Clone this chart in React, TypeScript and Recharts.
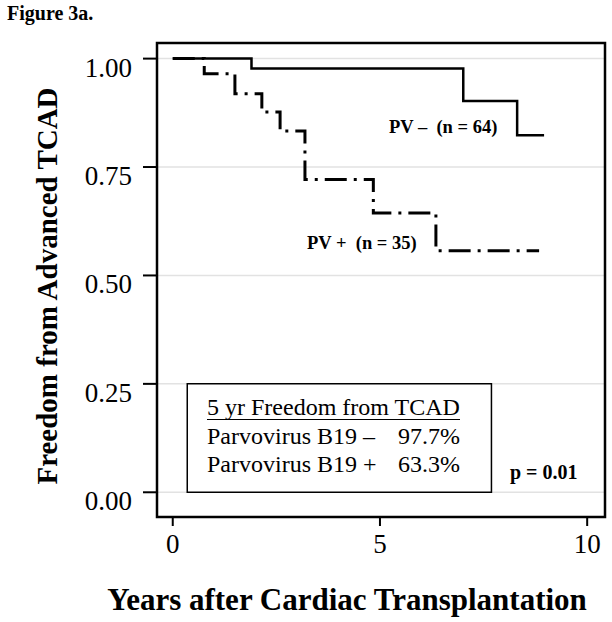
import React from "react";
import {
  LineChart,
  Line,
  XAxis,
  YAxis,
  CartesianGrid,
  ReferenceArea,
} from "recharts";

// Kaplan-Meier step data
const pvNegTimes = [0, 1.9, 7.01, 8.31, 8.96];
const pvNegSurv = [1, 0.977, 0.902, 0.823, 0.823];
const pvPosTimes = [0, 0.76, 1.5, 2.15, 2.59, 3.19, 4.84, 6.35, 8.84];
const pvPosSurv = [1, 0.965, 0.919, 0.877, 0.833, 0.721, 0.644, 0.557, 0.557];

const xTicks = [0, 5, 10];
const yTicks = [0, 0.25, 0.5, 0.75, 1];

const pvNegData = pvNegTimes.map((t, i) => ({ t, s: pvNegSurv[i] }));
const pvPosData = pvPosTimes.map((t, i) => ({ t, s: pvPosSurv[i] }));

const SERIF = "'Liberation Serif', 'Times New Roman', serif";

const YTick = (props: any) => {
  const { x, y, payload } = props;
  return (
    <text x={x} y={y + 18} textAnchor="end" fontFamily={SERIF} fontSize={27} fill="#000">
      {Number(payload.value).toFixed(2)}
    </text>
  );
};

const XTick = (props: any) => {
  const { x, y, payload } = props;
  return (
    <text x={x} y={y + 19} textAnchor="middle" fontFamily={SERIF} fontSize={27} fill="#000">
      {payload.value}
    </text>
  );
};

export default function App() {
  return (
    <div style={{ position: "absolute", left: 0, top: 0, width: 612, height: 622, background: "#fff" }}>
      <LineChart
        width={612}
        height={622}
        margin={{ top: 43, right: 7, bottom: 45, left: 0 }}
      >
        <CartesianGrid horizontal={true} vertical={false} stroke="#e2e2e2" strokeWidth={1.5} />
        <XAxis
          type="number"
          dataKey="t"
          domain={[-0.38, 10.43]}
          allowDataOverflow
          ticks={xTicks}
          tickSize={9}
          tickMargin={8}
          axisLine={false}
          tickLine={{ stroke: "#000", strokeWidth: 2 }}
          tick={<XTick />}
          height={60}
          interval={0}
        />
        <YAxis
          type="number"
          domain={[-0.057, 1.036]}
          allowDataOverflow
          ticks={yTicks}
          tickSize={14}
          tickMargin={11}
          axisLine={false}
          tickLine={{ stroke: "#000", strokeWidth: 2 }}
          tick={<YTick />}
          width={157}
          interval={0}
        />
        <ReferenceArea
          x1={0.35}
          x2={7.69}
          y1={0}
          y2={0.25}
          fill="#fff"
          fillOpacity={1}
          stroke="#000"
          strokeWidth={1.5}
        />
        <Line
          data={pvPosData}
          dataKey="s"
          type="stepAfter"
          stroke="#000"
          strokeWidth={3}
          strokeDasharray="22 7 3 7"
          dot={false}
          activeDot={false}
          isAnimationActive={false}
        />
        <Line
          data={pvNegData}
          dataKey="s"
          type="stepAfter"
          stroke="#000"
          strokeWidth={2.5}
          dot={false}
          activeDot={false}
          isAnimationActive={false}
        />
        <ReferenceArea
          x1={-0.38}
          x2={10.43}
          y1={-0.057}
          y2={1.036}
          fill="none"
          stroke="#000"
          strokeWidth={2.5}
        />
      </LineChart>
      <svg
        width={612}
        height={622}
        style={{ position: "absolute", left: 0, top: 0, pointerEvents: "none" }}
      >
        <text x={7} y={20} fontFamily={SERIF} fontWeight="bold" fontSize={20} fill="#000">
          Figure 3a.
        </text>
        <text
          x={57}
          y={286}
          transform="rotate(-90, 57, 286)"
          textAnchor="middle"
          fontFamily={SERIF}
          fontWeight="bold"
          fontSize={29}
          fill="#000"
        >
          Freedom from Advanced TCAD
        </text>
        <text x={347} y={610} textAnchor="middle" fontFamily={SERIF} fontWeight="bold" fontSize={31} fill="#000">
          Years after Cardiac Transplantation
        </text>
        <text x={389} y={133} fontFamily={SERIF} fontWeight="bold" fontSize={18.5} fill="#000" xmlSpace="preserve">
          {"PV \u2013  (n = 64)"}
        </text>
        <text x={307} y={249} fontFamily={SERIF} fontWeight="bold" fontSize={18.5} fill="#000" xmlSpace="preserve">
          {"PV +  (n = 35)"}
        </text>
        <text x={207} y={415} fontFamily={SERIF} fontSize={24} fill="#000">
          5 yr Freedom from TCAD
        </text>
        <line x1={207} x2={460} y1={419.5} y2={419.5} stroke="#000" strokeWidth={1.2} />
        <text x={207} y={443.5} fontFamily={SERIF} fontSize={24} fill="#000">
          {"Parvovirus B19 \u2013"}
        </text>
        <text x={460} y={443.5} textAnchor="end" fontFamily={SERIF} fontSize={24} fill="#000">
          97.7%
        </text>
        <text x={207} y={471.5} fontFamily={SERIF} fontSize={24} fill="#000">
          Parvovirus B19 +
        </text>
        <text x={460} y={471.5} textAnchor="end" fontFamily={SERIF} fontSize={24} fill="#000">
          63.3%
        </text>
        <text x={510} y={478.5} fontFamily={SERIF} fontWeight="bold" fontSize={20} fill="#000">
          p = 0.01
        </text>
      </svg>
    </div>
  );
}
